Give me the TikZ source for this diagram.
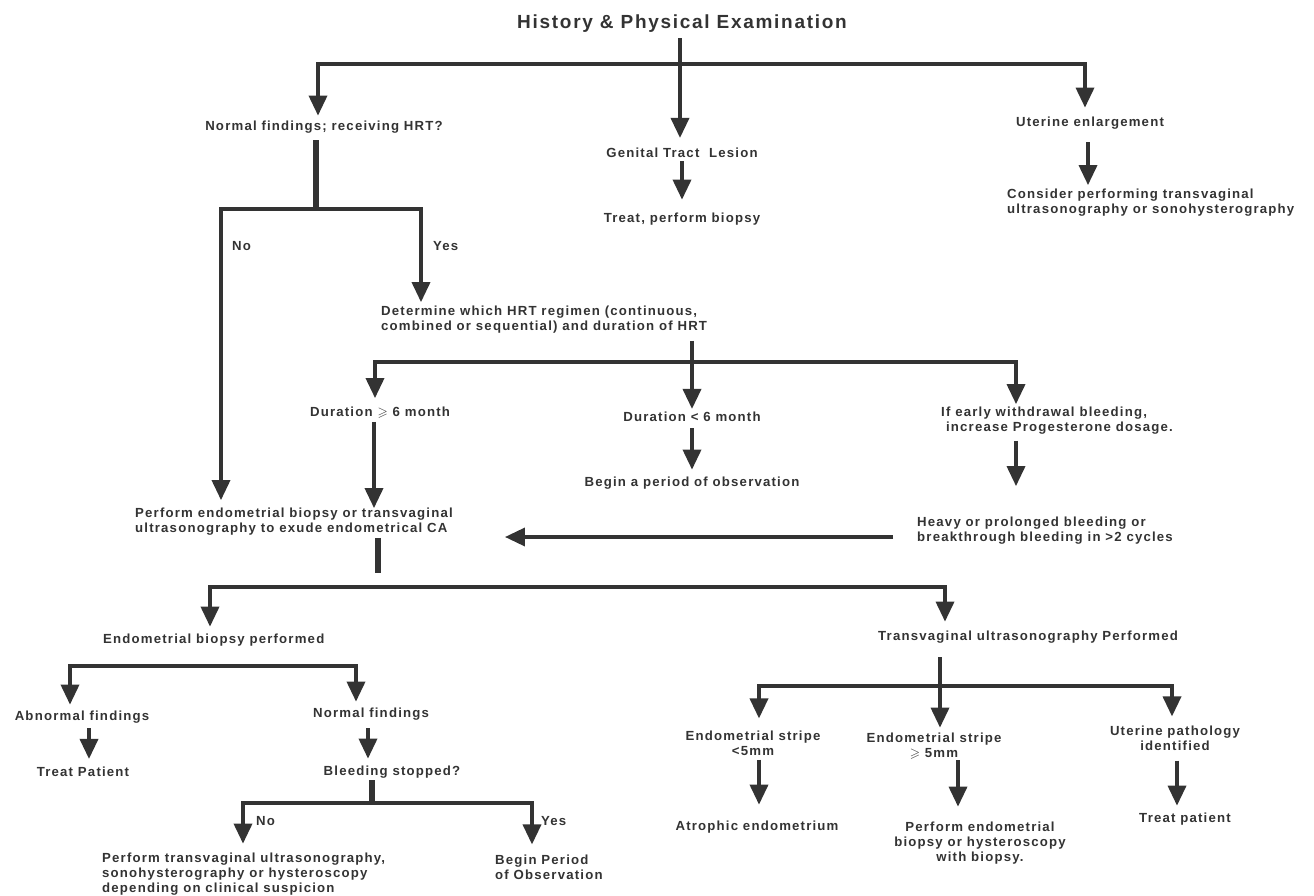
\documentclass[tikz,border=0pt]{standalone}
\usepackage{fontspec}
\usepackage{amssymb}
\setmainfont{Liberation Sans}[LetterSpace=9]
\usetikzlibrary{arrows.meta}
\definecolor{lc}{HTML}{333333}
\definecolor{tc}{HTML}{333333}
\begin{document}
\begin{tikzpicture}[x=1pt,y=-1pt,
  txt/.style={inner sep=0pt, text=tc, font=\bfseries\fontsize{13.2}{15}\selectfont},
  ln/.style={draw=lc, line width=3.5pt},
  thk/.style={draw=lc, line width=6pt},
  arr/.style={ln, -{Triangle[width=18pt,length=20pt]}},
  darr/.style={ln, {Triangle[width=18pt,length=20pt]}-{Triangle[width=18pt,length=20pt]}}]
\useasboundingbox (0,0) rectangle (1314,896);
\fill[white] (0,0) rectangle (1314,896);

% ---------- text nodes ----------
\node[txt, font=\bfseries\fontsize{19}{21}\selectfont] (T) at (682,24) {History \& Physical Examination};
\node[txt] (nf) at (324,127) {Normal findings; receiving HRT?};
\node[txt] (gt) at (682,153) {Genital Tract\ \ Lesion};
\node[txt] (ue) at (1090,123) {Uterine enlargement};
\node[txt] (tp) at (682,219) {Treat, perform biopsy};
\node[txt, anchor=west, align=left] (cp) at (1007,203) {Consider performing transvaginal\\ultrasonography or sonohysterography};
\node[txt, anchor=west] (no1) at (232,246) {No};
\node[txt, anchor=west] (yes1) at (433,246) {Yes};
\node[txt, anchor=west, align=left] (dh) at (381,320) {Determine which HRT regimen (continuous,\\combined or sequential) and duration of HRT};
\node[txt] (d1) at (380,413) {Duration \(\geqslant\) 6 month};
\node[txt] (d2) at (692,417) {Duration {<} 6 month};
\node[txt, anchor=west, align=left] (ie) at (941,421) {If early withdrawal bleeding,\\\ increase Progesterone dosage.};
\node[txt] (bo) at (692,483) {Begin a period of observation};
\node[txt, anchor=west, align=left] (pe) at (135,522) {Perform endometrial biopsy or transvaginal\\ultrasonography to exude endometrical CA};
\node[txt, anchor=west, align=left] (hb) at (917,531) {Heavy or prolonged bleeding or\\breakthrough bleeding in {>}2 cycles};
\node[txt, anchor=west] (ebp) at (103,640) {Endometrial biopsy performed};
\node[txt, anchor=west] (tvp) at (878,637) {Transvaginal ultrasonography Performed};
\node[txt] (af) at (82,717) {Abnormal findings};
\node[txt] (nfd) at (371,714) {Normal findings};
\node[txt] (TP) at (83,772) {Treat Patient};
\node[txt] (bs) at (392,772) {Bleeding stopped?};
\node[txt, anchor=west] (no2) at (256,821) {No};
\node[txt, anchor=west] (yes2) at (541,821) {Yes};
\node[txt, anchor=west, align=left] (ptu) at (102,874) {Perform transvaginal ultrasonography,\\sonohysterography or hysteroscopy\\depending on clinical suspicion};
\node[txt, anchor=west, align=left] (bpo) at (495,867) {Begin Period\\of Observation};
\node[txt, align=center] (es1) at (753,743) {Endometrial stripe\\{<}5mm};
\node[txt, align=center] (es2) at (934,746) {Endometrial stripe\\\(\geqslant\) 5mm};
\node[txt, align=center] (up) at (1175,738) {Uterine pathology\\identified};
\node[txt] (ae) at (757,827) {Atrophic endometrium};
\node[txt, align=center] (pb) at (980,843) {Perform endometrial\\biopsy or hysteroscopy\\with biopsy.};
\node[txt] (tp2) at (1185,819) {Treat patient};

% ---------- junction coordinates ----------
\coordinate (h0) at (680,64);
\coordinate (h0L) at (318,64);
\coordinate (h0R) at (1085,64);
\coordinate (xg) at (682,0);
\coordinate (xu) at (1088,0);
\coordinate (n1) at (316,209);
\coordinate (n1L) at (221,209);
\coordinate (n1R) at (421,209);
\coordinate (m0) at (692,362);
\coordinate (mL) at (375,362);
\coordinate (mR) at (1016,362);
\coordinate (xd1) at (374,0);
\coordinate (ha) at (0,537);
\coordinate (p1) at (378,573);
\coordinate (p0) at (378,587);
\coordinate (pL) at (210,587);
\coordinate (pR) at (945,587);
\coordinate (bL) at (70,666);
\coordinate (bR) at (356,666);
\coordinate (xa1) at (89,0);
\coordinate (xa2) at (368,0);
\coordinate (s0) at (372,803);
\coordinate (sL) at (243,803);
\coordinate (sR) at (532,803);
\coordinate (r0) at (940,686);
\coordinate (rL) at (759,686);
\coordinate (rR) at (1172,686);
\coordinate (xb1) at (759,0);
\coordinate (xb2) at (958,0);
\coordinate (xb3) at (1177,0);

% ---------- connectors ----------
\draw[arr, shorten <=5pt, shorten >=10pt] (T.south -| h0) -- (gt.north -| h0);
\draw[arr, shorten >=5pt] (h0) -| (h0L |- nf.north);
\draw[arr, shorten >=9pt] (h0) -| (h0R |- ue.north);
\draw[arr, shorten <=3pt, shorten >=13pt] (gt.south -| xg) -- (tp.north -| xg);
\draw[arr, shorten <=13pt, shorten >=4pt] (ue.south -| xu) -- (cp.north -| xu);

\draw[thk, shorten <=7pt] (nf.south -| n1) -- (n1);
\draw[arr, shorten >=8pt] (n1) -| (n1L |- pe.north);
\draw[arr, shorten >=4pt] (n1) -| (n1R |- dh.north);

\draw[arr, shorten <=7pt, shorten >=3pt] (dh.south -| m0) -- (d2.north -| m0);
\draw[arr, shorten >=9pt] (m0) -| (mL |- d1.north);
\draw[arr, shorten >=3pt] (m0) -| (mR |- ie.north);
\draw[arr, shorten <=3pt] (d1.south -| xd1) -- (pe.north -| xd1);
\draw[arr, shorten <=6pt, shorten >=7pt] (d2.south -| m0) -- (bo.north -| m0);
\draw[arr, shorten <=6pt, shorten >=31pt] (ie.south -| mR) -- (hb.north -| mR);
\draw[arr, shorten <=24pt, shorten >=52pt] (hb.west |- ha) -- (pe.east |- ha);

\draw[thk, shorten <=2pt] (pe.south -| p1) -- (p1);
\draw[arr, shorten >=7pt] (p0) -| (pL |- ebp.north);
\draw[arr, shorten >=9pt] (p0) -| (pR |- tvp.north);

\draw[darr, shorten <=6pt, shorten >=6pt] (bL |- af.north) |- (bR) -- (bR |- nfd.north);
\draw[arr, shorten <=5pt, shorten >=8pt] (af.south -| xa1) -- (TP.north -| xa1);
\draw[arr, shorten <=8pt, shorten >=7pt] (nfd.south -| xa2) -- (bs.north -| xa2);
\draw[thk, shorten <=2pt] (bs.south -| s0) -- (s0);
\draw[darr, shorten <=9pt, shorten >=10pt] (sL |- ptu.north) |- (sR) -- (sR |- bpo.north);

\draw[arr, shorten <=14pt, shorten >=5pt] (tvp.south -| r0) -- (es2.north -| r0);
\draw[arr, shorten >=12pt] (r0) -| (rL |- es1.north);
\draw[arr, shorten >=9pt] (r0) -| (rR |- up.north);
\draw[arr, shorten <=4pt, shorten >=16pt] (es1.south -| xb1) -- (ae.north -| xb1);
\draw[arr, shorten <=1pt, shorten >=15pt] (es2.south -| xb2) -- (pb.north -| xb2);
\draw[arr, shorten <=10pt, shorten >=7pt] (up.south -| xb3) -- (tp2.north -| xb3);
\end{tikzpicture}
\end{document}
